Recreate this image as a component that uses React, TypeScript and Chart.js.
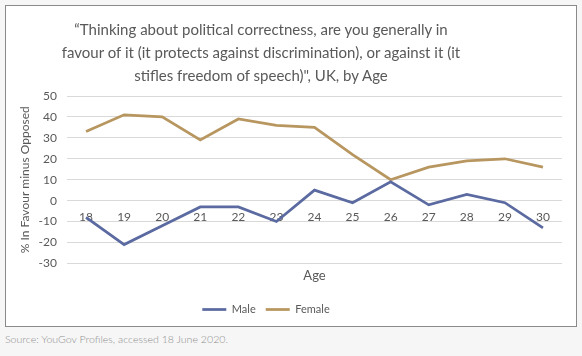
import React, { useEffect, useRef } from "react";
import { Chart, registerables } from "chart.js";

Chart.register(...registerables);

const ages = ["18", "19", "20", "21", "22", "23", "24", "25", "26", "27", "28", "29", "30"];
const maleValues = [-8, -21, -12, -3, -3, -10, 5, -1, 9, -2, 3, -1, -13];
const femaleValues = [33, 41, 40, 29, 39, 36, 35, 22, 10, 16, 19, 20, 16];
const seriesNames = ["Male", "Female"];
const yMin = -30;
const yMax = 50;
const yStep = 10;
const titleLines = [
  "\u201CThinking about political correctness, are you generally in",
  "favour of it (it protects against discrimination), or against it (it",
  "stifles freedom of speech)\", UK, by Age",
];
const yAxisTitle = "% In Favour minus Opposed";
const xAxisTitle = "Age";
const sourceText = "Source: YouGov Profiles, accessed 18 June 2020.";

const FONT = "Lato, 'Open Sans', sans-serif";
const TEXT = "#595959";
const MALE = "#5b6aa0";
const FEMALE = "#b8965f";
const LEGEND_CENTER_X = 266;

const legendShift = {
  id: "legendShift",
  afterLayout(chart: any) {
    const lg = chart.legend;
    if (!lg) return;
    const shift = LEGEND_CENTER_X - (lg.left + lg.right) / 2;
    lg.left += shift;
    lg.right += shift;
  },
};

export default function App() {
  const canvasRef = useRef<HTMLCanvasElement | null>(null);

  useEffect(() => {
    if (!canvasRef.current) return;
    const chart = new Chart(canvasRef.current, {
      type: "line",
      data: {
        labels: ages,
        datasets: [
          {
            label: seriesNames[0],
            data: maleValues,
            borderColor: MALE,
            backgroundColor: MALE,
            borderWidth: 2.75,
            pointRadius: 0,
            tension: 0,
            xAxisID: "x",
            yAxisID: "y",
          },
          {
            label: seriesNames[1],
            data: femaleValues,
            borderColor: FEMALE,
            backgroundColor: FEMALE,
            borderWidth: 2.75,
            pointRadius: 0,
            tension: 0,
            xAxisID: "x",
            yAxisID: "y",
          },
        ],
      },
      plugins: [legendShift],
      options: {
        responsive: false,
        maintainAspectRatio: false,
        animation: false,
        layout: { padding: { left: 18, right: 20, top: 96, bottom: 1 } },
        plugins: {
          title: { display: false },
          tooltip: { enabled: false },
          legend: {
            position: "bottom",
            labels: {
              usePointStyle: true,
              pointStyle: "line",
              pointStyleWidth: 24,
              boxHeight: 3,
              color: TEXT,
              font: { family: FONT, size: 11 },
              padding: 10,
            },
          },
        },
        scales: {
          x: {
            type: "category",
            offset: true,
            position: { y: 0 } as any,
            grid: { display: false, drawTicks: false, offset: true },
            border: { display: false },
            ticks: {
              color: TEXT,
              font: { family: FONT, size: 12 },
              padding: 9,
              maxRotation: 0,
              autoSkip: false,
            },
          },
          x2: {
            type: "category",
            offset: true,
            position: "bottom",
            grid: { display: false, drawTicks: false },
            border: { display: false },
            ticks: { display: false },
            title: {
              display: true,
              text: xAxisTitle,
              color: TEXT,
              font: { family: FONT, size: 13 },
              padding: { top: 5, bottom: 10 },
            },
          },
          y: {
            min: yMin,
            max: yMax,
            ticks: {
              stepSize: yStep,
              color: TEXT,
              font: { family: FONT, size: 12 },
              padding: 10,
            },
            grid: { color: "#d9d9d9", drawTicks: false, lineWidth: 1 },
            border: { display: false },
            title: {
              display: true,
              text: yAxisTitle,
              color: TEXT,
              font: { family: FONT, size: 12 },
              padding: { top: 0, bottom: 4 },
            },
            afterFit: (s: any) => {
              s.width = 49;
            },
          },
        },
      },
    });
    return () => chart.destroy();
  }, []);

  return (
    <div
      style={{
        position: "fixed",
        left: 0,
        top: 0,
        width: 582,
        height: 356,
        background: "#f6f6f6",
        overflow: "hidden",
      }}
    >
      <div
        style={{
          position: "absolute",
          left: 5,
          top: 5,
          width: 570,
          height: 320,
          border: "1px solid #8a8a8a",
          background: "#ffffff",
        }}
      />
      <canvas
        ref={canvasRef}
        width={582}
        height={326}
        style={{ position: "absolute", left: 0, top: 0, width: 582, height: 326 }}
      />
      <div
        style={{
          position: "absolute",
          left: 31,
          top: 18,
          width: 460,
          textAlign: "center",
          fontFamily: FONT,
          fontSize: 15,
          lineHeight: "23px",
          color: TEXT,
          whiteSpace: "nowrap",
        }}
      >
        {titleLines.map((l, i) => (
          <div key={i}>{l}</div>
        ))}
      </div>
      <div
        style={{
          position: "absolute",
          left: 5,
          top: 333,
          fontFamily: FONT,
          fontWeight: 300,
          fontSize: 10.6,
          color: "#8f8f8f",
          whiteSpace: "nowrap",
        }}
      >
        {sourceText}
      </div>
    </div>
  );
}
